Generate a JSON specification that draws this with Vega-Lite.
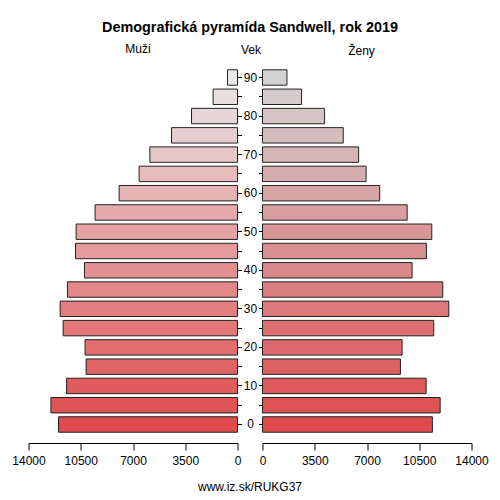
{
  "$schema": "https://vega.github.io/schema/vega-lite/v6.json",
  "padding": {"left": 11.5, "top": 19, "right": 10, "bottom": 5},
  "background": "white",
  "config": {
    "font": "Liberation Sans",
    "view": {"stroke": null},
    "axis": {"labelColor": "black", "tickColor": "black", "domainColor": "black", "labelFontSize": 12, "titleColor": "black", "grid": false}
  },
  "title": {"text": "Demografická pyramída Sandwell, rok 2019", "fontSize": 14.4, "fontWeight": "bold", "color": "black", "anchor": "middle", "offset": 8},
  "datasets": {
    "muzi": [
      {"vek": 0, "pocet": 11990}, {"vek": 5, "pocet": 12500}, {"vek": 10, "pocet": 11450},
      {"vek": 15, "pocet": 10140}, {"vek": 20, "pocet": 10210}, {"vek": 25, "pocet": 11680},
      {"vek": 30, "pocet": 11880}, {"vek": 35, "pocet": 11390}, {"vek": 40, "pocet": 10250},
      {"vek": 45, "pocet": 10850}, {"vek": 50, "pocet": 10810}, {"vek": 55, "pocet": 9540},
      {"vek": 60, "pocet": 7930}, {"vek": 65, "pocet": 6590}, {"vek": 70, "pocet": 5870},
      {"vek": 75, "pocet": 4420}, {"vek": 80, "pocet": 3080}, {"vek": 85, "pocet": 1634},
      {"vek": 90, "pocet": 670}
    ],
    "zeny": [
      {"vek": 0, "pocet": 11380}, {"vek": 5, "pocet": 11900}, {"vek": 10, "pocet": 10960},
      {"vek": 15, "pocet": 9240}, {"vek": 20, "pocet": 9350}, {"vek": 25, "pocet": 11470},
      {"vek": 30, "pocet": 12480}, {"vek": 35, "pocet": 12075}, {"vek": 40, "pocet": 10020},
      {"vek": 45, "pocet": 10980}, {"vek": 50, "pocet": 11340}, {"vek": 55, "pocet": 9690},
      {"vek": 60, "pocet": 7850}, {"vek": 65, "pocet": 6940}, {"vek": 70, "pocet": 6440},
      {"vek": 75, "pocet": 5410}, {"vek": 80, "pocet": 4160}, {"vek": 85, "pocet": 2616},
      {"vek": 90, "pocet": 1637}
    ]
  },
  "bounds": "flush",
  "spacing": 25,
  "resolve": {"scale": {"color": "independent", "x": "independent", "y": "independent"}},
  "hconcat": [
    {
      "data": {"name": "muzi"},
      "width": 209,
      "height": 384,
      "title": {"text": "Muži", "fontSize": 12, "fontWeight": "normal", "color": "black", "frame": "group", "anchor": "middle", "dx": 5, "offset": -13},
      "mark": {"type": "bar", "stroke": "#222222", "strokeWidth": 1},
      "encoding": {
        "x": {"field": "pocet", "type": "quantitative",
          "scale": {"domain": [0, 14000], "reverse": true, "nice": false, "zero": true},
          "axis": {"values": [0, 3500, 7000, 10500, 14000], "format": "d", "tickSize": 7, "labelPadding": 5, "labelFlush": false, "labelOverlap": false,
            "title": "www.iz.sk/RUKG37", "titleFontSize": 12, "titleFontWeight": "normal", "titleX": 221, "titleY": 47, "titleAlign": "center", "titleBaseline": "alphabetic", "titleAnchor": null}},
        "y": {"field": "vek", "type": "ordinal", "sort": "descending",
          "scale": {"paddingInner": 0.2, "paddingOuter": 0.56},
          "axis": {"orient": "right", "domain": false, "tickSize": 4, "labelAlign": "center", "labelPadding": 8.5, "labelBaseline": "middle",
            "labelExpr": "datum.value % 10 == 0 ? datum.label : ''",
            "title": "Vek", "titleAngle": 0, "titleFontSize": 12, "titleFontWeight": "normal", "titleX": 13, "titleY": -6, "titleAlign": "center", "titleBaseline": "alphabetic"}},
        "color": {"field": "vek", "type": "quantitative", "legend": null,
          "scale": {"type": "linear", "domain": [0, 90], "range": ["#df4a4d", "#e8e8e8"], "interpolate": "rgb"}}
      }
    },
    {
      "data": {"name": "zeny"},
      "width": 209,
      "height": 384,
      "title": {"text": "Ženy", "fontSize": 12, "fontWeight": "normal", "color": "black", "frame": "group", "anchor": "middle", "dx": -5.5, "offset": 1},
      "mark": {"type": "bar", "stroke": "#222222", "strokeWidth": 1},
      "encoding": {
        "x": {"field": "pocet", "type": "quantitative",
          "scale": {"domain": [0, 14000], "nice": false, "zero": true},
          "axis": {"values": [0, 3500, 7000, 10500, 14000], "format": "d", "tickSize": 7, "labelPadding": 5, "labelFlush": false, "labelOverlap": false, "title": null}},
        "y": {"field": "vek", "type": "ordinal", "sort": "descending",
          "scale": {"paddingInner": 0.2, "paddingOuter": 0.56},
          "axis": {"orient": "left", "domain": false, "tickSize": 4, "labels": false, "title": null}},
        "color": {"field": "vek", "type": "quantitative", "legend": null,
          "scale": {"type": "linear", "domain": [0, 90], "range": ["#df4a4d", "#d3d3d3"], "interpolate": "rgb"}}
      }
    }
  ]
}
